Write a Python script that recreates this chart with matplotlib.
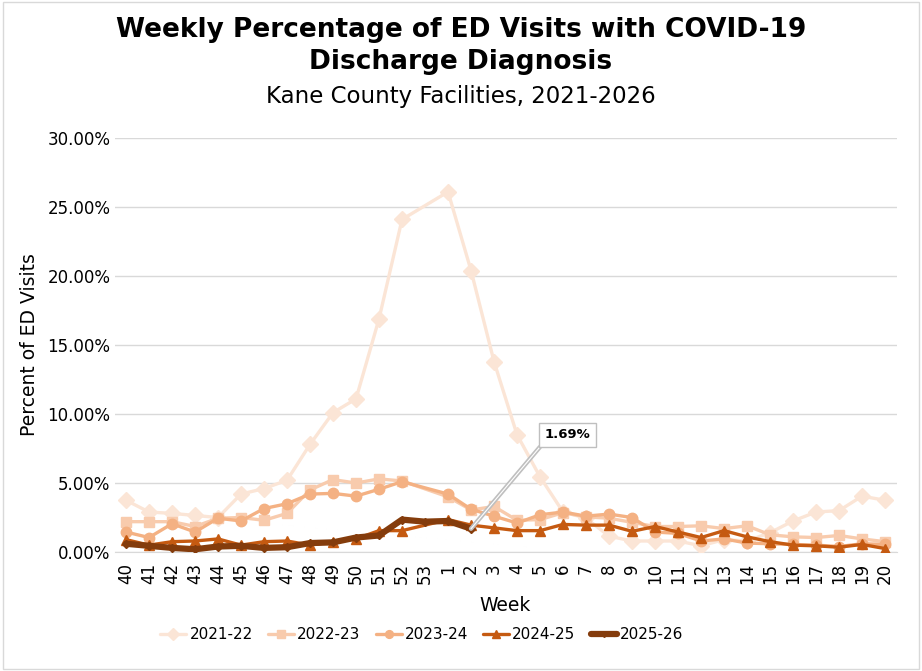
import numpy as np
import matplotlib
matplotlib.use('Agg')
import matplotlib.pyplot as plt
import matplotlib.patheffects as pe
from matplotlib.ticker import FuncFormatter
from matplotlib.patches import Rectangle

nan = np.nan

# week labels of the season (MMWR week 40 -> week 20)
weeks = ['40', '41', '42', '43', '44', '45', '46', '47', '48', '49', '50', '51', '52', '53',
         '1', '2', '3', '4', '5', '6', '7', '8', '9', '10', '11', '12', '13', '14', '15',
         '16', '17', '18', '19', '20']

# percent of ED visits
s2021 = [3.75, 2.9, 2.8, 2.65, 2.5, 4.2, 4.6, 5.2, 7.8, 10.1, 11.1, 16.9, 24.1, nan,
         26.1, 20.4, 13.8, 8.5, 5.45, 2.9, 2.45, 1.15, 0.8, 0.8, 0.8, 0.45, 0.9, 0.8, 1.4,
         2.25, 2.9, 3.0, 4.05, 3.75]
s2022 = [2.2, 2.2, 2.2, 1.85, 2.45, 2.5, 2.3, 2.8, 4.5, 5.25, 5.0, 5.3, 5.15, nan,
         4.0, 3.05, 3.3, 2.3, 2.35, 2.85, 2.55, 2.45, 2.15, 1.85, 1.85, 1.9, 1.7, 1.9, 1.25,
         1.1, 1.05, 1.2, 0.95, 0.75]
s2023 = [1.45, 1.05, 2.05, 1.45, 2.45, 2.25, 3.15, 3.5, 4.2, 4.25, 4.05, 4.55, 5.1, nan,
         4.2, 3.1, 2.6, 2.1, 2.7, 2.9, 2.6, 2.75, 2.5, 1.45, 1.35, 0.8, 0.95, 0.65, 0.6,
         0.55, 0.5, 0.4, 0.6, 0.55]
s2024 = [0.9, 0.5, 0.75, 0.8, 0.95, 0.5, 0.75, 0.8, 0.5, 0.75, 0.95, 1.55, 1.55, nan,
         2.35, 1.95, 1.75, 1.55, 1.55, 2.0, 1.95, 1.95, 1.5, 1.85, 1.45, 1.05, 1.55, 1.1, 0.75,
         0.5, 0.45, 0.35, 0.55, 0.25]
s2025 = [0.6, 0.45, 0.3, 0.2, 0.4, 0.45, 0.3, 0.35, 0.65, 0.7, 1.05, 1.2, 2.35, 2.2,
         2.25, 1.69, nan, nan, nan, nan, nan, nan, nan, nan, nan, nan, nan, nan, nan,
         nan, nan, nan, nan, nan]

series = [
    ('2021-22', s2021, '#FBE5D6', 'D', 2.4, 8),
    ('2022-23', s2022, '#F8CBAD', 's', 2.4, 7),
    ('2023-24', s2023, '#F4B183', 'o', 2.4, 7.5),
    ('2024-25', s2024, '#C55A11', '^', 2.4, 7.5),
    ('2025-26', s2025, '#843C0C', 'D', 4.5, 4),
]

fig = plt.figure(figsize=(9.22, 6.71), dpi=100)
ax = fig.add_axes([0.1242, 0.1773, 0.8482, 0.617])

x = np.arange(len(weeks))
for name, vals, col, mk, lw, ms in series:
    y = np.array(vals, dtype=float)
    ok = ~np.isnan(y)
    ax.plot(x[ok], y[ok], color=col, marker=mk, lw=lw, ms=ms, label=name,
            solid_joinstyle='round', solid_capstyle='round', zorder=3)

ax.set_xlim(-0.5, len(weeks) - 0.5)
ax.set_ylim(0, 30)
ax.set_yticks(np.arange(0, 31, 5))
ax.yaxis.set_major_formatter(FuncFormatter(lambda v, p: f'{v:.2f}%'))
ax.set_xticks(x)
ax.set_xticklabels(weeks, rotation=90)
ax.tick_params(axis='both', length=0, labelsize=12, colors='#000000')
ax.tick_params(axis='x', pad=8)
ax.tick_params(axis='y', pad=3)
ax.grid(axis='y', color='#D9D9D9', lw=1)
ax.set_axisbelow(True)
for sp in ['top', 'right', 'left']:
    ax.spines[sp].set_visible(False)
ax.spines['bottom'].set_color('#D9D9D9')

ax.set_xlabel('Week', fontsize=13.5, labelpad=8)
ax.set_ylabel('Percent of ED Visits', fontsize=13.5, labelpad=6)

# data label for the latest week
last = 15
ann = ax.annotate(f'{s2025[last]:.2f}%', xy=(x[last], s2025[last]), xytext=(x[last] + 4.2, 8.5),
                  fontsize=9.5, fontweight='bold', ha='center', va='center',
                  bbox=dict(boxstyle='square,pad=0.4', fc='white', ec='#BFBFBF', lw=1),
                  arrowprops=dict(arrowstyle='-', color='white', lw=0.8, relpos=(0.0, 0.0),
                                  shrinkA=0, shrinkB=0), zorder=5)
ann.arrow_patch.set_path_effects([pe.Stroke(linewidth=3.2, foreground='#BFBFBF'), pe.Normal()])

fig.text(0.5, 0.975, 'Weekly Percentage of ED Visits with COVID-19\nDischarge Diagnosis',
         ha='center', va='top', fontsize=19, fontweight='bold', linespacing=1.3)
fig.text(0.5, 0.873, 'Kane County Facilities, 2021-2026', ha='center', va='top', fontsize=16.5)

ax.legend(loc='lower center', bbox_to_anchor=(0.393, -0.232), ncol=5, frameon=False,
          fontsize=11, handlelength=1.7, columnspacing=1.0, handletextpad=0.2,
          borderaxespad=0, markerscale=0.75)

fig.patches.append(Rectangle((0.003, 0.003), 0.994, 0.994, transform=fig.transFigure,
                             fill=False, ec='#D9D9D9', lw=1))

fig.savefig('out.png', dpi=100)
